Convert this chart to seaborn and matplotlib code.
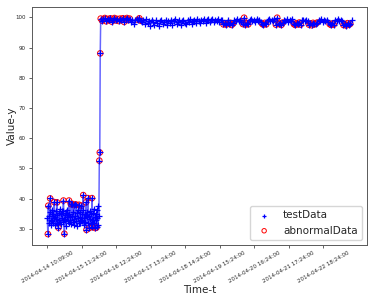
import numpy as np
import matplotlib
matplotlib.use("Agg")
import matplotlib.pyplot as plt
import seaborn as sns

# low regime, one reading every 4 samples (samples 0..448)
low_vals = [
    33.5, 28.3, 37.7, 34.2, 32.1, 35.6, 40.1, 33.0, 31.4, 36.2,
    34.8, 32.5, 35.1, 31.9, 33.7, 38.9, 34.0, 31.2, 35.9, 33.3,
    32.0, 38.8, 34.6, 31.7, 30.4, 35.4, 33.1, 36.5, 32.3, 34.9,
    31.5, 35.8, 33.6, 32.2, 36.0, 39.4, 33.4, 28.4, 34.7, 32.8,
    35.3, 31.1, 36.4, 33.9, 32.6, 34.5, 31.8, 39.4, 35.0, 32.9,
    33.8, 38.2, 31.6, 34.3, 38.3, 32.4, 35.7, 37.9, 33.2, 31.3,
    34.4, 38.1, 32.7, 38.0, 35.2, 31.0, 33.6, 36.3, 32.0, 38.0,
    34.1, 31.9, 35.5, 33.0, 37.7, 32.5, 34.8, 36.1, 41.2, 33.5,
    31.4, 35.0, 32.2, 34.6, 38.8, 29.7, 33.9, 35.6, 40.2, 32.1,
    34.2, 30.3, 35.9, 33.4, 31.6, 34.9, 32.8, 40.2, 30.6, 35.3,
    33.1, 36.6, 31.8, 34.0, 30.3, 35.1, 32.9, 30.5, 36.2, 33.7,
    31.2, 37.6, 34.4,
]
# the jump (samples 452, 456, 460)
jump_vals = [52.6, 55.3, 88.1]
# high regime, one reading every 12 samples (samples 464..2648)
high_vals = [
    99.6, 98.9, 99.4, 99.8, 98.7, 99.5, 99.1, 99.7, 98.6, 99.3,
    99.8, 99.0, 99.5, 98.8, 99.6, 99.2, 99.7, 98.5, 99.4, 99.8,
    99.1, 99.6, 98.6, 99.3, 97.9, 99.0, 99.5, 99.2, 99.7, 98.9,
    98.4, 99.1, 97.8, 99.4, 98.2, 98.9, 97.3, 99.2, 98.6, 97.6,
    99.0, 98.3, 97.1, 98.8, 99.3, 97.7, 98.5, 99.1, 97.4, 98.9,
    98.0, 99.2, 97.6, 98.7, 99.4, 97.9, 98.4, 99.0, 97.5, 98.8,
    99.3, 98.1, 97.8, 99.1, 98.6, 99.4, 97.9, 98.9, 99.2, 98.3,
    99.5, 98.7, 98.0, 99.3, 98.8, 99.6, 98.2, 99.0, 99.4, 98.5,
    99.1, 99.6, 98.4, 99.2, 98.9, 99.5, 98.6, 99.3, 99.0, 97.7,
    98.1, 97.6, 99.1, 97.9, 98.2, 97.5, 98.0, 99.2, 98.7, 99.4,
    98.9, 99.3, 98.6, 97.8, 99.9, 97.6, 98.1, 97.7, 99.0, 99.4,
    98.8, 99.2, 98.5, 99.5, 98.9, 99.1, 98.6, 97.9, 97.6, 98.2,
    97.7, 99.0, 99.4, 98.7, 99.2, 98.9, 99.5, 97.6, 99.9, 97.8,
    98.0, 97.5, 98.3, 99.1, 98.8, 99.4, 98.6, 99.2, 98.9, 99.5,
    97.8, 97.5, 98.1, 97.7, 98.3, 97.6, 99.0, 99.3, 98.7, 99.1,
    98.8, 97.6, 98.0, 97.4, 98.2, 97.7, 97.9, 98.3, 99.2, 98.9,
    99.4, 98.6, 99.1, 98.8, 99.3, 98.5, 97.8, 97.5, 98.0, 97.6,
    99.2, 98.9, 99.4, 98.7, 99.1, 98.8, 97.5, 97.8, 97.3, 98.1,
    97.6, 97.9, 99.0,
]

# samples flagged as abnormal
abnormal_low = [4, 8, 24, 60, 84, 96, 140, 148, 188, 204, 216, 228, 244, 252,
                276, 296, 312, 336, 340, 352, 364, 388, 392, 416, 428,
                452, 456, 460]
abnormal_high_k = (list(range(0, 22)) + [27, 28, 29]
                   + [89, 90, 91, 93, 94, 95, 96]
                   + [103, 104, 105, 106, 107]
                   + [117, 118, 119, 120]
                   + list(range(127, 133)) + list(range(140, 146))
                   + list(range(151, 158)) + list(range(166, 170))
                   + list(range(176, 182)))

tick_samples = [0, 300, 600, 900, 1200, 1500, 1800, 2100, 2400]
tick_labels = ["2014-04-14 10:09:00", "2014-04-15 11:24:00", "2014-04-16 12:24:00",
               "2014-04-17 13:24:00", "2014-04-18 14:24:00", "2014-04-19 15:24:00",
               "2014-04-20 16:24:00", "2014-04-21 17:24:00", "2014-04-22 18:24:00"]

t = np.concatenate([np.arange(0, 452, 4), [452, 456, 460],
                    464 + 12 * np.arange(len(high_vals))])
y = np.array(low_vals + jump_vals + high_vals)
lookup = dict(zip(t.tolist(), y.tolist()))
ab_t = abnormal_low + [464 + 12 * k for k in abnormal_high_k]
ab_y = [lookup[s] for s in ab_t]

sns.set_style("ticks", {"axes.edgecolor": "0.35"})
fig, ax = plt.subplots(figsize=(3.74, 2.99), dpi=100)
fig.subplots_adjust(left=0.086, right=0.981, bottom=0.181, top=0.977)

sns.lineplot(x=t, y=y, ax=ax, color="blue", alpha=0.6, lw=1.1, legend=False,
             zorder=3)
sns.scatterplot(x=t, y=y, ax=ax, marker="+", color="blue", s=16,
                linewidth=0.9, label="testData", zorder=4)
sns.scatterplot(x=ab_t, y=ab_y, ax=ax, marker="o", facecolor="none",
                edgecolor="red", s=16, linewidth=0.7, label="abnormalData",
                zorder=2)

ax.set_xticks(tick_samples)
ax.set_xticklabels(tick_labels, rotation=30, fontsize=4)
ax.set_yticks([30, 40, 50, 60, 70, 80, 90, 100])
ax.tick_params(axis="y", labelsize=4, length=2.5, width=0.5, pad=2)
ax.tick_params(axis="x", length=2.5, width=0.5, pad=1.5)
for sp in ax.spines.values():
    sp.set_linewidth(0.7)
ax.set_xlabel("Time-t", fontsize=7.5, labelpad=1)
ax.set_ylabel("Value-y", fontsize=7.5)
ax.yaxis.set_label_coords(-0.045, 0.5)
ax.legend(loc="lower right", fontsize=7.5, markerscale=0.8)

fig.savefig("out.png", dpi=100)
